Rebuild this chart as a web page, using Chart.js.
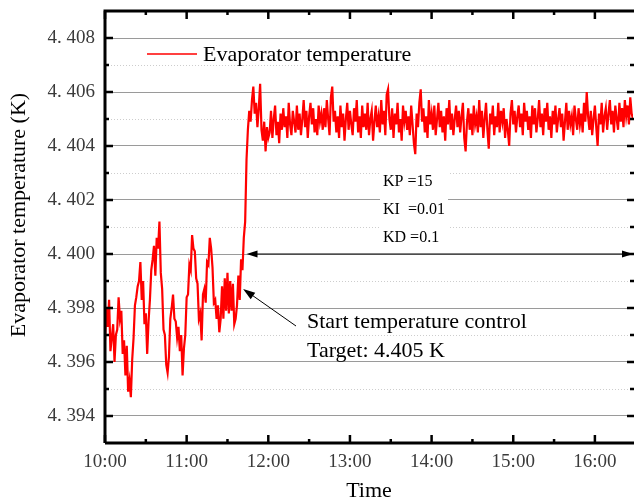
<!DOCTYPE html>
<html>
<head>
<meta charset="utf-8">
<script src="https://cdn.jsdelivr.net/npm/chart.js@4.4.1/dist/chart.umd.min.js"></script>
<style>
  html, body { margin: 0; padding: 0; background: #fff; }
  #chart { display: block; }
</style>
</head>
<body>
<canvas id="chart" width="634" height="502"></canvas>
<script>
// -- data (one sample per minute, starting at 10:00) --
const minutesPerSample = 1;

// 10:00 - 11:43, before the controller was switched on
const beforeControl = [
    4.3968, 4.3980, 4.3973, 4.3983, 4.3964, 4.3969, 4.3974, 4.3960, 4.3970, 4.3972,
    4.3984, 4.3976, 4.3979, 4.3963, 4.3968, 4.3955, 4.3966, 4.3949, 4.3953, 4.3947,
    4.3961, 4.3969, 4.3981, 4.3984, 4.3988, 4.3990, 4.3997, 4.3983, 4.3990, 4.3974,
    4.3978, 4.3963, 4.3975, 4.3983, 4.3994, 4.3998, 4.4003, 4.3992, 4.4006, 4.4002,
    4.4012, 4.3993, 4.3987, 4.3972, 4.3970, 4.3959, 4.3956, 4.3962, 4.3976, 4.3980,
    4.3985, 4.3976, 4.3975, 4.3969, 4.3973, 4.3964, 4.3970, 4.3955, 4.3965, 4.3970,
    4.3984, 4.3985, 4.3996, 4.3994, 4.4007, 4.4002, 4.4001, 4.3991, 4.3989, 4.3976,
    4.3978, 4.3968, 4.3985, 4.3987, 4.3982, 4.3997, 4.3996, 4.4006, 4.4002, 4.3995,
    4.3982, 4.3983, 4.3976, 4.3981, 4.3971, 4.3976, 4.3988, 4.3976, 4.3991, 4.3979,
    4.3993, 4.3978, 4.3990, 4.3979, 4.3989, 4.3974, 4.3976, 4.3981, 4.3992, 4.3983,
    4.3998, 4.3994, 4.4006, 4.4012,
];

// 11:44 - 16:28, PID control towards 4.405 K
const underControl = [
    4.4035, 4.4046, 4.4053, 4.4049, 4.4057, 4.4062, 4.4052, 4.4056, 4.4047, 4.4054,
    4.4063, 4.4046, 4.4042, 4.4049, 4.4038, 4.4047, 4.4043,
    4.4045, 4.4053, 4.4043, 4.4050, 4.4055, 4.4044, 4.4049, 4.4041, 4.4052, 4.4046,
    4.4054, 4.4047, 4.4051, 4.4043, 4.4056, 4.4048, 4.4044, 4.4053, 4.4049, 4.4045,
    4.4055, 4.4046, 4.4052, 4.4044, 4.4050, 4.4057, 4.4047, 4.4053, 4.4043, 4.4051,
    4.4056, 4.4048, 4.4054, 4.4045, 4.4050, 4.4044, 4.4055, 4.4049, 4.4052, 4.4046,
    4.4054, 4.4047, 4.4057, 4.4050, 4.4044, 4.4058, 4.4062, 4.4049, 4.4053, 4.4045,
    4.4051, 4.4043, 4.4055, 4.4047, 4.4052, 4.4042, 4.4050, 4.4056, 4.4046, 4.4053,
    4.4048, 4.4044, 4.4054, 4.4049, 4.4057, 4.4045, 4.4051, 4.4043, 4.4055, 4.4047,
    4.4052, 4.4046, 4.4056, 4.4044, 4.4050, 4.4053, 4.4042, 4.4049, 4.4055, 4.4047,
    4.4051, 4.4045, 4.4057, 4.4048, 4.4053, 4.4044, 4.4059, 4.4061, 4.4050, 4.4046,
    4.4054, 4.4043, 4.4052, 4.4048, 4.4056, 4.4045, 4.4050, 4.4042, 4.4055, 4.4049,
    4.4053, 4.4046, 4.4051, 4.4044, 4.4055, 4.4048, 4.4041, 4.4037, 4.4052, 4.4047,
    4.4056, 4.4061, 4.4049, 4.4054, 4.4045, 4.4051, 4.4043, 4.4057, 4.4048, 4.4052,
    4.4046, 4.4055, 4.4044, 4.4050, 4.4056, 4.4047, 4.4053, 4.4045, 4.4051, 4.4042,
    4.4054, 4.4048, 4.4057, 4.4046, 4.4052, 4.4044, 4.4050, 4.4055, 4.4047, 4.4053,
    4.4045, 4.4051, 4.4056, 4.4043, 4.4038, 4.4049, 4.4054, 4.4046, 4.4052, 4.4044,
    4.4055, 4.4048, 4.4051, 4.4045, 4.4057, 4.4047, 4.4053, 4.4043, 4.4050, 4.4056,
    4.4046, 4.4039, 4.4052, 4.4048, 4.4055, 4.4044, 4.4051, 4.4047, 4.4056, 4.4045,
    4.4053, 4.4049, 4.4054, 4.4043, 4.4050, 4.4046, 4.4040, 4.4052, 4.4057, 4.4048,
    4.4053, 4.4045, 4.4051, 4.4055, 4.4047, 4.4052, 4.4044, 4.4056, 4.4049, 4.4053,
    4.4046, 4.4051, 4.4043, 4.4055, 4.4048, 4.4054, 4.4045, 4.4050, 4.4057, 4.4047,
    4.4052, 4.4044, 4.4054, 4.4049, 4.4056, 4.4046, 4.4051, 4.4043, 4.4053, 4.4048,
    4.4055, 4.4045, 4.4050, 4.4054, 4.4047, 4.4052, 4.4042, 4.4049, 4.4056, 4.4046,
    4.4053, 4.4048, 4.4051, 4.4044, 4.4055, 4.4050, 4.4046, 4.4054, 4.4048, 4.4052,
    4.4045, 4.4056, 4.4049, 4.4060, 4.4051, 4.4046, 4.4053, 4.4044, 4.4050, 4.4055,
    4.4047, 4.4040, 4.4052, 4.4048, 4.4056, 4.4045, 4.4051, 4.4054, 4.4046, 4.4052,
    4.4057, 4.4048, 4.4053, 4.4045, 4.4055, 4.4050, 4.4046, 4.4056, 4.4049, 4.4054,
    4.4047, 4.4057, 4.4051, 4.4055, 4.4048, 4.4058, 4.4052, 4.4050,
];

// axis ticks
const timeTickMinutes = [0, 60, 120, 180, 240, 300, 360];
const timeTickLabels = ['10:00', '11:00', '12:00', '13:00', '14:00', '15:00', '16:00'];
const timeMinorMinutes = [30, 90, 150, 210, 270, 330];
const tempTickValues = [4.394, 4.396, 4.398, 4.400, 4.402, 4.404, 4.406, 4.408];
const tempTickLabels = ['4. 394', '4. 396', '4. 398', '4. 400', '4. 402', '4. 404', '4. 406', '4. 408'];
const tempMinorValues = [4.395, 4.397, 4.399, 4.401, 4.403, 4.405, 4.407];

const SERIF = '"Liberation Serif", "Times New Roman", serif';
const RED = '#ff0000';

const points = beforeControl.concat(underControl)
    .map((v, i) => ({ x: i * minutesPerSample, y: v }));

const milli = (v) => Math.round(v * 1000);
const isMajorTemp = (v) => tempTickValues.some((t) => milli(t) === milli(v));

function arrow(ctx, x0, y0, x1, y1, len, half) {
    const ang = Math.atan2(y1 - y0, x1 - x0);
    ctx.beginPath();
    ctx.moveTo(x1, y1);
    ctx.lineTo(x1 - len * Math.cos(ang) + half * Math.sin(ang), y1 - len * Math.sin(ang) - half * Math.cos(ang));
    ctx.lineTo(x1 - len * Math.cos(ang) - half * Math.sin(ang), y1 - len * Math.sin(ang) + half * Math.cos(ang));
    ctx.closePath();
    ctx.fill();
}

const decorations = {
    id: 'decorations',
    beforeDatasetsDraw(chart) {
        const { ctx, chartArea: a, scales: { y } } = chart;
        ctx.save();
        ctx.strokeStyle = '#cdcdcd';
        ctx.lineWidth = 1;
        ctx.setLineDash([1, 2]);
        tempMinorValues.forEach((v) => {
            const py = Math.round(y.getPixelForValue(v)) + 0.5;
            ctx.beginPath();
            ctx.moveTo(a.left, py);
            ctx.lineTo(a.right, py);
            ctx.stroke();
        });
        ctx.restore();
    },
    afterDatasetsDraw(chart) {
        const { ctx, chartArea: a, scales: { x, y } } = chart;
        ctx.save();

        // PID parameters
        ctx.fillStyle = '#fff';
        ctx.fillRect(380, 164, 68, 84);
        ctx.fillStyle = '#000';
        ctx.textBaseline = 'middle';
        ctx.font = '16px ' + SERIF;
        ctx.fillText('KP =15', 383, 182);
        ctx.fillText('KI  =0.01', 383, 210);
        ctx.fillText('KD =0.1', 383, 238);

        // control span arrow
        const ay = y.getPixelForValue(4.400);
        const ax0 = x.getPixelForValue(104);
        ctx.strokeStyle = '#000';
        ctx.lineWidth = 1;
        ctx.beginPath();
        ctx.moveTo(ax0 + 4, ay);
        ctx.lineTo(a.right - 4, ay);
        ctx.stroke();
        arrow(ctx, a.right - 20, ay, a.right, ay, 11, 3.5);
        arrow(ctx, ax0 + 20, ay, ax0, ay, 11, 3.5);

        // start marker
        const sx = x.getPixelForValue(101.5), sy = y.getPixelForValue(4.3987);
        ctx.beginPath();
        ctx.moveTo(296, 326);
        ctx.lineTo(sx + 6, sy + 4);
        ctx.stroke();
        arrow(ctx, 296, 326, sx, sy, 12, 4);

        ctx.font = '22px ' + SERIF;
        ctx.fillText('Start temperature control', 307, 322);
        ctx.fillText('Target: 4.405 K', 307, 351);

        // legend
        ctx.strokeStyle = RED;
        ctx.lineWidth = 1.5;
        ctx.beginPath();
        ctx.moveTo(147, 54);
        ctx.lineTo(197, 54);
        ctx.stroke();
        ctx.fillText('Evaporator temperature', 203, 55);

        // y title
        ctx.save();
        ctx.translate(19, 215);
        ctx.rotate(-Math.PI / 2);
        ctx.textAlign = 'center';
        ctx.fillText('Evaporator temperature (K)', 0, 0);
        ctx.restore();

        // frame
        ctx.strokeStyle = '#000';
        ctx.lineWidth = 3;
        ctx.beginPath();
        ctx.moveTo(a.left, a.bottom);
        ctx.lineTo(a.left, a.top);
        ctx.lineTo(640, a.top);
        ctx.moveTo(a.left, a.bottom);
        ctx.lineTo(640, a.bottom);
        ctx.stroke();

        // inward ticks on all four sides
        ctx.lineWidth = 2.5;
        ctx.beginPath();
        const tick = (x0, y0, x1, y1) => { ctx.moveTo(x0, y0); ctx.lineTo(x1, y1); };
        timeTickMinutes.forEach((m) => {
            const px = x.getPixelForValue(m);
            tick(px, a.bottom, px, a.bottom - 8);
            tick(px, a.top, px, a.top + 8);
        });
        timeMinorMinutes.forEach((m) => {
            const px = x.getPixelForValue(m);
            tick(px, a.bottom, px, a.bottom - 4);
            tick(px, a.top, px, a.top + 4);
        });
        tempTickValues.forEach((v) => {
            const py = y.getPixelForValue(v);
            tick(a.left, py, a.left + 8, py);
            tick(634, py, 627, py);
        });
        tempMinorValues.forEach((v) => {
            const py = y.getPixelForValue(v);
            tick(a.left, py, a.left + 4, py);
            tick(634, py, 630, py);
        });
        ctx.stroke();
        ctx.restore();
    },
};

new Chart(document.getElementById('chart'), {
    type: 'line',
    data: {
        datasets: [{
            label: 'Evaporator temperature',
            data: points,
            borderColor: RED,
            borderWidth: 2.2,
            pointRadius: 0,
            tension: 0,
        }],
    },
    options: {
        responsive: false,
        animation: false,
        layout: { padding: { top: 11, right: 1, left: 0, bottom: 0 } },
        plugins: {
            legend: { display: false },
            tooltip: { enabled: false },
        },
        scales: {
            x: {
                type: 'linear',
                min: 0,
                max: 388,
                afterFit: (s) => { s.height = 59; },
                grid: { display: false, drawTicks: false },
                border: { display: false },
                ticks: {
                    stepSize: 60,
                    includeBounds: false,
                    autoSkip: false,
                    maxRotation: 0,
                    padding: 8,
                    color: '#3a3a3a',
                    font: { family: SERIF, size: 19 },
                    callback: (v) => {
                        const i = timeTickMinutes.indexOf(v);
                        return i >= 0 ? timeTickLabels[i] : '';
                    },
                },
                title: {
                    display: true,
                    text: 'Time',
                    color: '#000',
                    padding: { top: 0, bottom: 0 },
                    font: { family: SERIF, size: 22, lineHeight: 1 },
                },
            },
            y: {
                min: 4.393,
                max: 4.409,
                afterFit: (s) => {
                    s.width = 105;
                    s.paddingTop = 0;
                    s.paddingBottom = 0;
                },
                grid: {
                    drawTicks: false,
                    color: (c) => (isMajorTemp(c.tick.value) ? '#9a9a9a' : 'rgba(0,0,0,0)'),
                    lineWidth: 1,
                },
                border: { display: false },
                ticks: {
                    stepSize: 0.001,
                    includeBounds: false,
                    maxTicksLimit: 100,
                    autoSkip: false,
                    padding: 10,
                    color: '#3a3a3a',
                    font: { family: SERIF, size: 19 },
                    callback: (v) => {
                        const i = tempTickValues.findIndex((t) => milli(t) === milli(v));
                        return i >= 0 ? tempTickLabels[i] : '';
                    },
                },
            },
        },
    },
    plugins: [decorations],
});
</script>
</body>
</html>
